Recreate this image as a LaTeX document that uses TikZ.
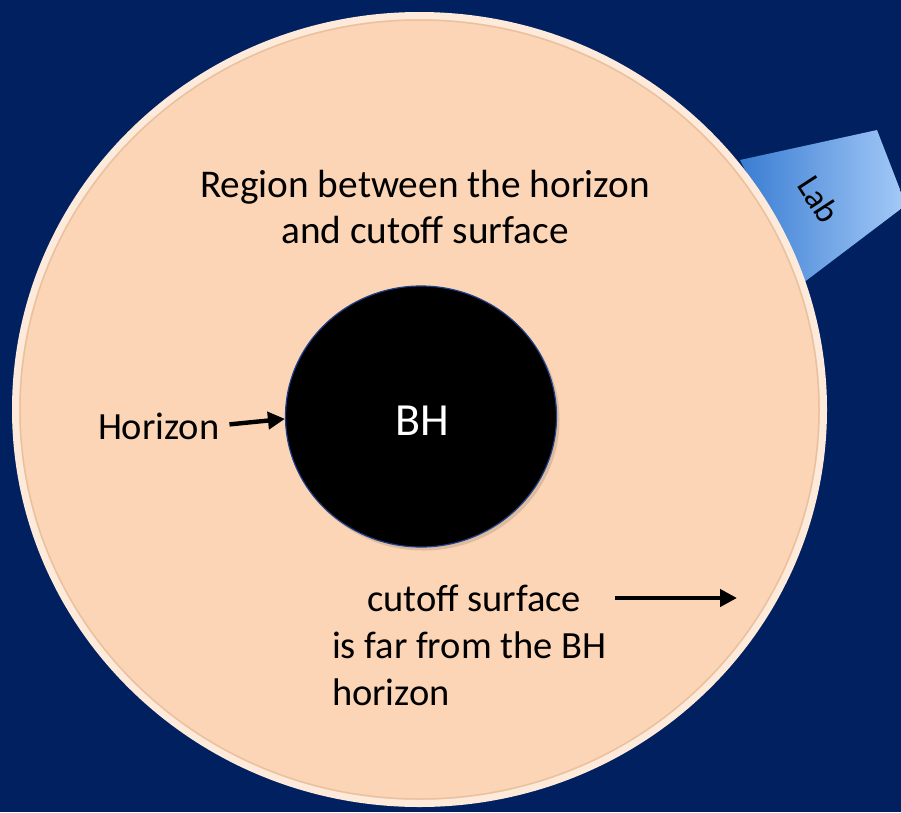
\documentclass[tikz,border=0pt]{standalone}
\usepackage{fontspec}
\setmainfont{Carlito}
\usetikzlibrary{arrows.meta,shapes.geometric}
\definecolor{navy}{HTML}{002060}
\definecolor{peach}{HTML}{FBD5B5}
\definecolor{cream}{HTML}{FDEADA}
\definecolor{rimshade}{HTML}{D4AA86}
\definecolor{labdark}{HTML}{3A7DD2}
\definecolor{lablight}{HTML}{A4CAF8}
\definecolor{bhrim}{HTML}{1F3F8A}
\begin{document}
\begin{tikzpicture}[x=1pt,y=-1pt,
  txt/.style={inner sep=0pt, outer sep=0pt, text=black, font=\fontsize{38.5}{47}\selectfont},
  arr/.style={line width=4.4pt, draw=black, -{Triangle[length=17pt,width=17pt]}},
  bhdisc/.style={ellipse, fill=black, draw=bhrim, line width=1.2pt, minimum width=271pt, minimum height=261pt, inner sep=0pt},
  labbox/.style={left color=labdark, right color=lablight}]
\useasboundingbox (0,0) rectangle (901,812);
\fill[navy] (0,0) rectangle (901,812);
% Lab wedge (behind the big disc)
\shade[labbox] (740,160) -- (877,130) -- (906,205) -- (803,283) -- cycle;
\node[inner sep=0pt, rotate=-57, font=\fontsize{34}{38}\selectfont, text=black] (lab) at (819,199) {Lab};
% big region
\draw[cream, line width=7pt, fill=peach] (419.5,409.5) ellipse [x radius=404, y radius=394];
\draw[rimshade, opacity=0.45, line width=1.5pt] (419.5,409.5) ellipse [x radius=399.5, y radius=389.5];
% black hole
\fill[black, opacity=0.12] (423.5,419.5) ellipse [x radius=136, y radius=131];
\node[bhdisc] (bh) at (421,416.5) {};
\node[inner sep=0pt, text=white, font=\fontsize{46}{55}\selectfont, anchor=base] (bhtext) at (422,435) {BH};
% texts
\node[txt, font=\fontsize{39.3}{46}\selectfont, align=center, anchor=base] (region) at (425,243) {Region between the horizon\\and cutoff surface};
\node[txt, anchor=base west] (horizon) at (98,439) {Horizon};
\node[txt, align=left, anchor=base west] (cutoff) at (332,705) {\hspace*{35pt}cutoff surface\\is far from the BH\\horizon};
% arrows
\draw[arr] ([xshift=10pt,yshift=1.5pt]horizon.east) -- (bh.181);
\coordinate (ra) at (615,598);
\coordinate (rb) at (737,598);
\draw[arr] (ra) -- (rb);
\end{tikzpicture}
\end{document}
